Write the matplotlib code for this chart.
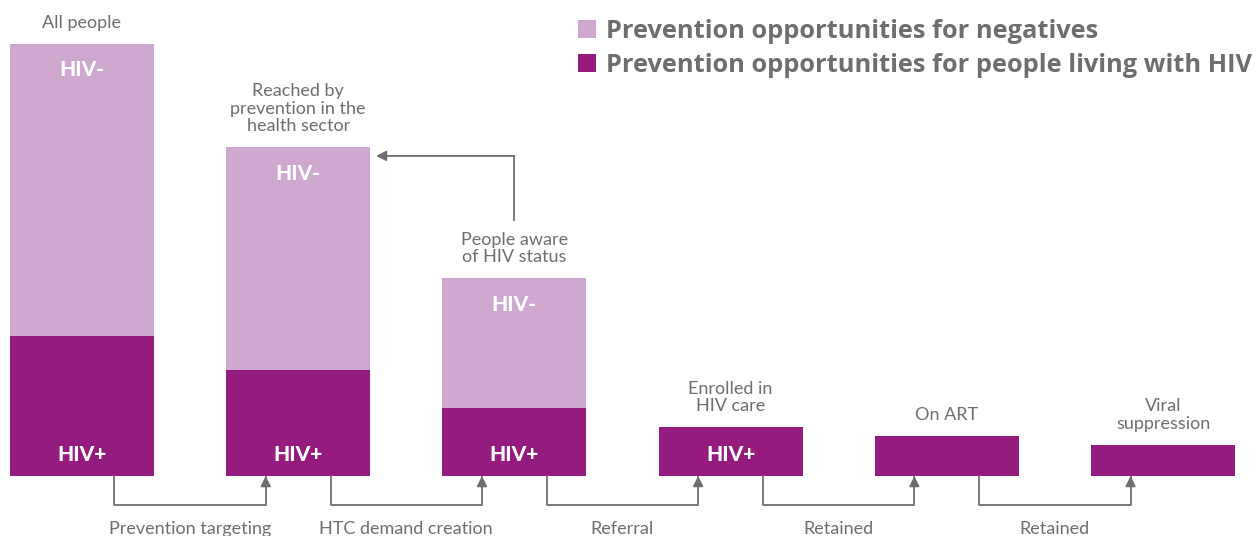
import numpy as np
import matplotlib
matplotlib.use("Agg")
import matplotlib.pyplot as plt

plt.rcParams['font.family'] = ['Lato', 'DejaVu Sans']

# cascade stages (share of all people = 100)
stages = ["All people", "Reached by\nprevention in the\nhealth sector",
          "People aware\nof HIV status", "Enrolled in\nHIV care", "On ART",
          "Viral\nsuppression"]
hiv_pos = [32.4, 24.5, 15.7, 11.3, 9.3, 7.2]
hiv_neg = [67.6, 51.6, 30.1, 0, 0, 0]
steps = ["Prevention targeting", "HTC demand creation", "Referral",
         "Retained", "Retained"]
pos_labels = ["HIV+", "HIV+", "HIV+", "HIV+", "", ""]
neg_labels = ["HIV-", "HIV-", "HIV-", "", "", ""]

light = "#cfa8d0"
dark = "#951b7f"
grey = "#6e6e6e"

fig = plt.figure(figsize=(12.59, 5.36), dpi=100)
ax = fig.add_axes([0, 0, 1, 1])
x = np.arange(len(stages))
w = 0.666

ax.bar(x, hiv_pos, w, color=dark, label="Prevention opportunities for people living with HIV")
ax.bar(x, hiv_neg, w, bottom=hiv_pos, color=light,
       label="Prevention opportunities for negatives")

for i in x:
    top = hiv_pos[i] + hiv_neg[i]
    ax.text(i, top + 3, stages[i], ha="center", va="bottom", fontsize=13,
            color=grey, linespacing=1.12)
    if pos_labels[i]:
        ax.text(i, 5, pos_labels[i], ha="center", va="center", fontsize=15,
                fontweight="black", color="white")
    if neg_labels[i]:
        ax.text(i, top - 6, neg_labels[i], ha="center", va="center",
                fontsize=15, fontweight="black", color="white")

# connectors between stages
dy = -6.7
for i, s in enumerate(steps):
    x0, x1 = i + 0.15, i + 1 - 0.15
    ax.plot([x0, x0, x1, x1], [0, dy, dy, -0.2], color=grey, lw=1.3)
    ax.annotate("", xy=(x1, 0), xytext=(x1, -2.5),
                arrowprops=dict(arrowstyle="-|>,head_length=0.6,head_width=0.3",
                                color=grey, lw=1.3, shrinkA=0, shrinkB=0))
    ax.text(i + 0.5, -12.2, s, ha="center", va="center", fontsize=13, color=grey)

# feedback arrow from aware back to reached
ax.plot([2, 2], [59.3, 74.1], color=grey, lw=1.3)
ax.annotate("", xy=(1.36, 74.1), xytext=(2, 74.1),
            arrowprops=dict(arrowstyle="-|>,head_length=0.6,head_width=0.3",
                            color=grey, lw=1.3, shrinkA=0, shrinkB=0))

ax.set_xlim(-0.379, 5.444)
ax.set_ylim(-13.89, 110.19)
ax.axis("off")

h, l = ax.get_legend_handles_labels()
leg = ax.legend(h[::-1], l[::-1], loc="upper right", bbox_to_anchor=(1.013, 1.008),
                frameon=False, handlelength=0.72, handleheight=0.72,
                handletextpad=0.4, labelspacing=0.36,
                prop=dict(family="Open Sans", size=18.3, weight="bold"))
for t in leg.get_texts():
    t.set_color(grey)

fig.savefig("out.png", dpi=100)
